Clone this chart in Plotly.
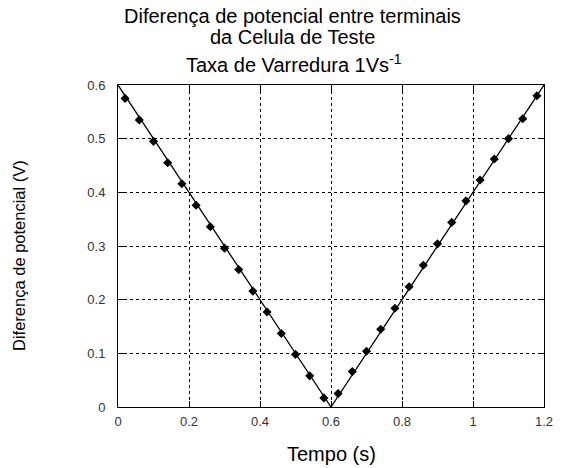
import plotly.graph_objects as go

# Data
tempo_linha = [0.0, 0.6, 1.2]
ddp_linha = [0.6, 0.0, 0.6]

tempo_marcadores = [0.02, 0.06, 0.10, 0.14, 0.18, 0.22, 0.26, 0.30, 0.34, 0.38,
                    0.42, 0.46, 0.50, 0.54, 0.58,
                    0.62, 0.66, 0.70, 0.74, 0.78, 0.82, 0.86, 0.90, 0.94, 0.98,
                    1.02, 1.06, 1.10, 1.14, 1.18]
ddp_marcadores = [0.575, 0.535, 0.495, 0.455, 0.416, 0.376, 0.336, 0.296, 0.256, 0.216,
                  0.177, 0.137, 0.098, 0.058, 0.017,
                  0.025, 0.066, 0.104, 0.145, 0.184, 0.224, 0.264, 0.304, 0.344, 0.384,
                  0.423, 0.462, 0.500, 0.537, 0.580]

x_ticks = [0, 0.2, 0.4, 0.6, 0.8, 1.0, 1.2]
x_tick_labels = ["0", "0.2", "0.4", "0.6", "0.8", "1", "1.2"]
y_ticks = [0, 0.1, 0.2, 0.3, 0.4, 0.5, 0.6]
y_tick_labels = ["0", "0.1", "0.2", "0.3", "0.4", "0.5", "0.6"]

titulo_1 = "Diferença de potencial entre terminais"
titulo_2 = "da Celula de Teste"
titulo_3 = "Taxa de Varredura 1Vs<sup>-1</sup>"
titulo_x = "Tempo (s)"
titulo_y = "Diferença de potencial (V)"

FONT = "Liberation Sans, Arial, sans-serif"

# plot area in pixels: x 118..544, y 85..407
PL, PR, PT, PB = 118, 544, 85, 407
W, H = 569, 468


def px(xp):
    return (xp - PL) / (PR - PL)


def py(yp):
    return (PB - yp) / (PB - PT)


fig = go.Figure()
fig.add_trace(go.Scatter(x=tempo_linha, y=ddp_linha, mode="lines",
                         line=dict(color="black", width=1.3), showlegend=False))
fig.add_trace(go.Scatter(x=tempo_marcadores, y=ddp_marcadores, mode="markers",
                         marker=dict(symbol="diamond", size=7, color="black"),
                         showlegend=False))

axis_common = dict(
    showline=True, linecolor="black", linewidth=1, mirror="ticks",
    ticks="inside", ticklen=6, tickcolor="black",
    showgrid=True, gridcolor="black", griddash="dot", gridwidth=1,
    zeroline=False,
    tickfont=dict(family=FONT, size=13, color="#333333"),
)

fig.update_xaxes(range=[0, 1.2], tickvals=x_ticks, ticktext=x_tick_labels,
                 ticklabelstandoff=2, **axis_common)
fig.update_yaxes(range=[0, 0.6], tickvals=y_ticks, ticktext=y_tick_labels,
                 ticklabelstandoff=9, **axis_common)


def ann(text, x, y, size, angle=0):
    return dict(text=text, xref="paper", yref="paper", x=x, y=y,
                xanchor="center", yanchor="middle", showarrow=False,
                textangle=angle, font=dict(family=FONT, size=size, color="black"))


fig.update_layout(
    width=W, height=H,
    margin=dict(l=PL, r=W - PR, t=PT, b=H - PB),
    paper_bgcolor="white", plot_bgcolor="white",
    annotations=[
        ann(titulo_1, px(292), py(16), 20),
        ann(titulo_2, px(292), py(37), 20),
        ann(titulo_3, px(294), py(64), 20),
        ann(titulo_x, px(331), py(454), 20),
        ann(titulo_y, px(19), py(256), 16.5, angle=-90),
    ],
)

fig.write_html("out.html")
